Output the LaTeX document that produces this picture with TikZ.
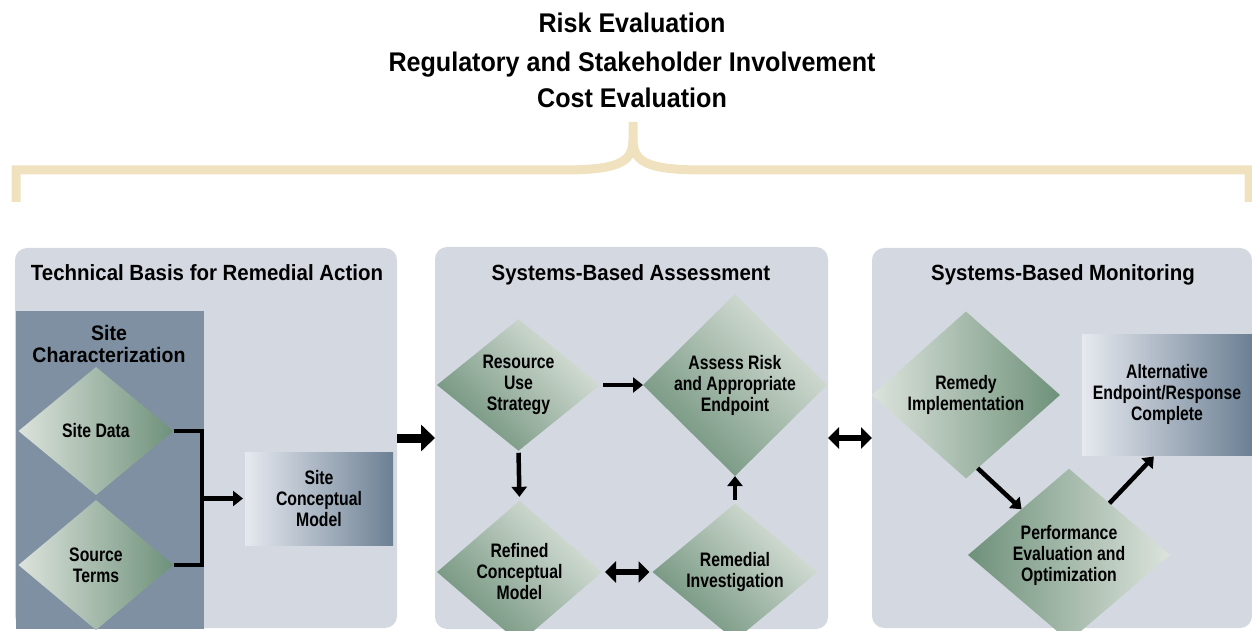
\documentclass[tikz,border=0pt]{standalone}
\usepackage{fontspec}
\setmainfont{Liberation Sans}[FakeStretch=0.93]
\newfontfamily\diafont{Liberation Sans}[FakeStretch=0.81]
\usetikzlibrary{shapes.geometric,arrows.meta}

\definecolor{panelbg}{HTML}{D4D9E1}
\definecolor{charbg}{HTML}{7E90A2}
\definecolor{dgreen}{HTML}{6E917A}
\definecolor{lgreen}{HTML}{DCE3DC}
\definecolor{boxlight}{HTML}{E6E9EF}
\definecolor{boxdark}{HTML}{6C8094}
\definecolor{bracecol}{HTML}{F0E2BE}

\begin{document}
\begin{tikzpicture}[x=1pt,y=1pt,
        panel/.style={fill=panelbg,rounded corners=12pt,inner sep=0pt,outer sep=0pt},
        toptxt/.style={anchor=base,font=\fontsize{27}{30}\selectfont\bfseries},
        ptitle/.style={anchor=base,font=\fontsize{22}{24}\selectfont\bfseries},
        dia/.style={diamond,inner sep=0pt,outer sep=0pt,align=center,font=\diafont\fontsize{19.5}{21}\selectfont\bfseries},
        lr/.style={left color=lgreen,right color=dgreen},
        rl/.style={left color=dgreen,right color=lgreen},
        diag/.style={bottom color=dgreen,top color=lgreen,shading angle=-45},
        gbox/.style={left color=boxlight,right color=boxdark,inner sep=0pt,outer sep=0pt,align=center,font=\diafont\fontsize{19.5}{21}\selectfont\bfseries},
        link/.style={line width=4pt},
        arr/.style={line width=4.5pt,-{Triangle[length=10pt,width=15pt]}},
        bigarr/.style={line width=9pt,-{Triangle[length=14pt,width=26pt]}},
        dblarr/.style={line width=6pt,{Triangle[length=11pt,width=21pt]}-{Triangle[length=11pt,width=21pt]}},
        brace/.style={draw=bracecol,line width=9pt}]

    \useasboundingbox (0,0) rectangle (1252,630);

    % common concerns
    \node[toptxt] (risk) at (632,597) {Risk Evaluation};
    \node[toptxt] (reg) at (632,558.5) {Regulatory and Stakeholder Involvement};
    \node[toptxt] (cost) at (632,522) {Cost Evaluation};

    \draw[brace] (16,428) -- (16,460) -- (560,460) .. controls (615,460) and (633,466) .. (633,490) -- (633,508);
    \draw[brace] (1249,428) -- (1249,460) -- (706,460) .. controls (651,460) and (633,466) .. (633,490);

    % panels
    \node[panel,minimum width=382pt,minimum height=380pt] (tech) at (206,192) {};
    \node[panel,minimum width=393pt,minimum height=382pt] (assesspanel) at (631.5,192) {};
    \node[panel,minimum width=380pt,minimum height=380pt] (monpanel) at (1062,192) {};

    \node[ptitle] (techtitle) at (207,349) {Technical Basis for Remedial Action};
    \node[ptitle] (assesstitle) at (631,349) {Systems-Based Assessment};
    \node[ptitle] (montitle) at (1063,349) {Systems-Based Monitoring};

    % technical basis
    \node[fill=charbg,minimum width=188pt,minimum height=318pt,inner sep=0pt] (sitechar) at (109.5,160) {};
    \node[align=center,font=\fontsize{21}{22.5}\selectfont\bfseries] (chartitle) at (109,286) {Site\\Characterization};

    \node[dia,lr,minimum width=155pt,minimum height=128pt] (sitedata) at (96,199) {Site Data};
    \node[dia,lr,minimum width=155pt,minimum height=130pt] (source) at (96,65) {Source\\Terms};
    \node[gbox,minimum width=148pt,minimum height=93pt] (scm) at (319,131.5) {Site\\Conceptual\\Model};

    \coordinate (join) at (202,131.5);
    \draw[link] (sitedata.east) -| (join) |- (source.east);
    \draw[arr,shorten >=2pt] (join) -- (scm.west);

    % assessment
    \node[dia,diag,minimum width=163pt,minimum height=130pt] (resource) at (518.5,245) {Resource\\Use\\Strategy};
    \node[dia,diag,minimum width=184pt,minimum height=154pt] (assess) at (735,245) {Assess Risk\\and Appropriate\\Endpoint};
    \node[dia,diag,minimum width=165pt,minimum height=134pt] (refined) at (519.5,58) {Refined\\Conceptual\\Model};
    \node[dia,diag,minimum width=165pt,minimum height=128pt] (remedial) at (735,58) {Remedial\\Investigation};

    \draw[arr,shorten <=3pt] (resource.east) -- (assess.west);
    \draw[arr,shorten <=2pt,shorten >=4pt] (resource.south) -- (refined.north);
    \draw[arr,shorten <=4pt] (remedial.north) -- (assess.south);
    \draw[dblarr,shorten <=3pt,shorten >=3pt] (refined.east) -- (remedial.west);

    % monitoring
    \node[dia,lr,minimum width=188pt,minimum height=167pt] (remedy) at (966,235) {Remedy\\Implementation};
    \node[gbox,minimum width=170pt,minimum height=121pt] (alt) at (1167,235.5) {Alternative\\Endpoint/Response\\Complete};
    \node[dia,rl,minimum width=202pt,minimum height=166pt] (perf) at (1069,75) {Performance\\Evaluation and\\Optimization};

    \draw[arr] (remedy.-81) -- (perf.136);
    \draw[arr,shorten >=2pt] (perf.52) -- (alt.259);

    % between panels
    \draw[bigarr] (tech) -- (assesspanel);
    \draw[dblarr] (assesspanel) -- (monpanel);
\end{tikzpicture}
\end{document}
